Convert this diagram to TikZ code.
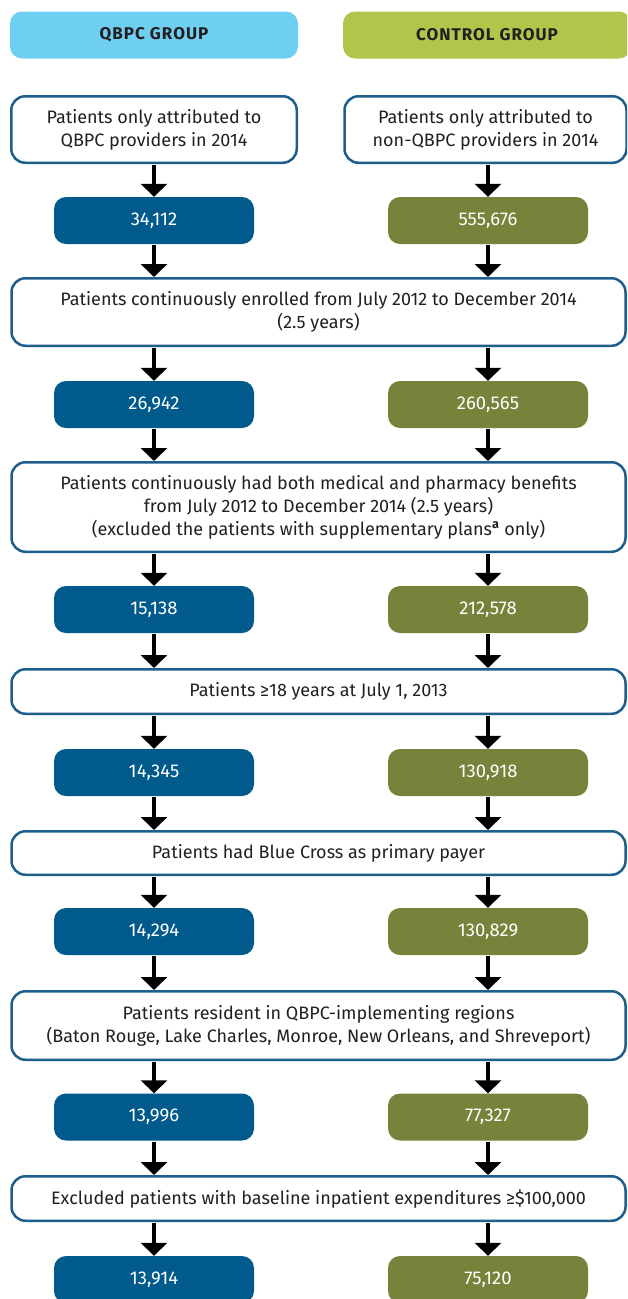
\documentclass[tikz,border=0pt]{standalone}
\usepackage{fontspec}
\setmainfont{Fira Sans}
\usetikzlibrary{arrows.meta}
\definecolor{hdrblue}{HTML}{6ECFF0}
\definecolor{hdrgreen}{HTML}{AFC64B}
\definecolor{numblue}{HTML}{005A8C}
\definecolor{numolive}{HTML}{76833A}
\definecolor{bordblue}{HTML}{1E5E8D}
\definecolor{txt}{HTML}{231F20}
\tikzset{
  hdr/.style={rounded corners=12pt, minimum width=288pt, minimum height=47pt, inner sep=0pt,
    text=txt, font=\fontsize{17}{19}\selectfont\bfseries, align=center},
  crit/.style={draw=bordblue, line width=2.5pt, fill=white, rounded corners=14pt, inner sep=0pt,
    text=txt, font=\fontsize{18}{23}\selectfont, align=center},
  numbox/.style={rounded corners=12pt, minimum width=200pt, minimum height=47pt, inner sep=0pt,
    text=white, font=\fontsize{18.5}{20}\selectfont},
  flow/.style={line width=4pt, -{Triangle[width=26pt,length=13pt]}, shorten <=1.2pt},
}
\begin{document}
\begin{tikzpicture}[x=1pt,y=-1pt]
\useasboundingbox (0,0) rectangle (627,1299);
\clip (0,0) rectangle (627,1299);
% headers
\node[hdr, fill=hdrblue] (hq) at (154,35) {\addfontfeature{LetterSpace=6}QBPC GROUP};
\node[hdr, fill=hdrgreen] (hc) at (487,35) {\addfontfeature{LetterSpace=6}CONTROL GROUP};
% first boxes
\node[crit, minimum width=285.5pt, minimum height=66.5pt] (b1l) at (154,129.5) {Patients only attributed to\\QBPC providers in 2014};
\node[crit, minimum width=282pt, minimum height=66.5pt] (b1r) at (485.5,129.5) {Patients only attributed to\\non-QBPC providers in 2014};
% number rows
\node[numbox, fill=numblue] (n1l) at (154,220.5) {34,112};
\node[numbox, fill=numolive] (n1r) at (488,220.5) {555,676};
\node[numbox, fill=numblue] (n2l) at (154,404.5) {26,942};
\node[numbox, fill=numolive] (n2r) at (488,404.5) {260,565};
\node[numbox, fill=numblue] (n3l) at (154,609.5) {15,138};
\node[numbox, fill=numolive] (n3r) at (488,609.5) {212,578};
\node[numbox, fill=numblue] (n4l) at (154,772.5) {14,345};
\node[numbox, fill=numolive] (n4r) at (488,772.5) {130,918};
\node[numbox, fill=numblue] (n5l) at (154,931.5) {14,294};
\node[numbox, fill=numolive] (n5r) at (488,931.5) {130,829};
\node[numbox, fill=numblue] (n6l) at (154,1117) {13,996};
\node[numbox, fill=numolive] (n6r) at (488,1117) {77,327};
\node[numbox, fill=numblue] (n7l) at (154,1279.5) {13,914};
\node[numbox, fill=numolive] (n7r) at (488,1279.5) {75,120};
% wide criteria boxes
\node[crit, minimum width=614pt, minimum height=67.5pt] (w2) at (318.5,312) {Patients continuously enrolled from July 2012 to December 2014\\(2.5 years)};
\node[crit, minimum width=614pt, minimum height=89.5pt] (w3) at (318.5,507) {Patients continuously had both medical and pharmacy benefits\\from July 2012 to December 2014 (2.5 years)\\(excluded the patients with supplementary plans\textsuperscript{\bfseries a} only)};
\node[crit, minimum width=614pt, minimum height=44.5pt] (w4) at (318.5,691.5) {Patients ≥18 years at July 1, 2013};
\node[crit, minimum width=614pt, minimum height=43.5pt] (w5) at (318.5,853) {Patients had Blue Cross as primary payer};
\node[crit, minimum width=614pt, minimum height=68.5pt] (w6) at (318.5,1025.5) {Patients resident in QBPC-implementing regions\\(Baton Rouge, Lake Charles, Monroe, New Orleans, and Shreveport)};
\node[crit, minimum width=614pt, minimum height=44.5pt] (w7) at (318.5,1198.5) {Excluded patients with baseline inpatient expenditures ≥\$100,000};
% arrows
\draw[flow] (b1l.south) -- (n1l.north);
\draw[flow] (b1r.south -| n1r.north) -- (n1r.north);
\foreach \w/\p/\q in {w2/1/2, w3/2/3, w4/3/4, w5/4/5, w6/5/6, w7/6/7}{
  \draw[flow] (n\p l.south) -- (n\p l.south |- \w.north);
  \draw[flow] (n\p r.south) -- (n\p r.south |- \w.north);
  \draw[flow] (\w.south -| n\q l.north) -- (n\q l.north);
  \draw[flow] (\w.south -| n\q r.north) -- (n\q r.north);
}
\end{tikzpicture}
\end{document}
